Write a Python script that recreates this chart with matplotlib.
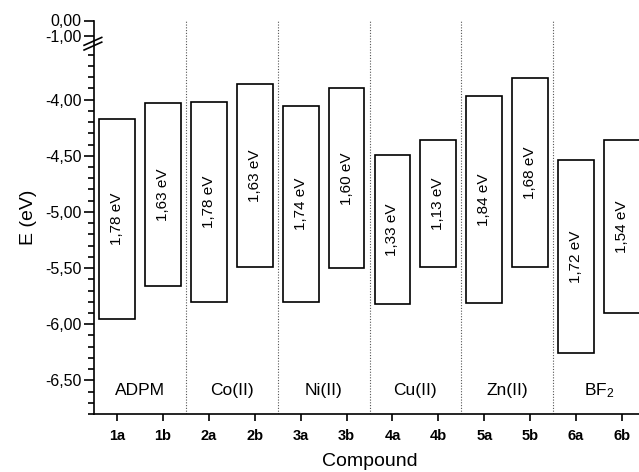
import numpy as np
import matplotlib
matplotlib.use("Agg")
import matplotlib.pyplot as plt

plt.rcParams['font.family'] = ['Liberation Sans', 'DejaVu Sans']
plt.rcParams['mathtext.default'] = 'regular'

# data
compounds = ['1a', '1b', '2a', '2b', '3a', '3b', '4a', '4b', '5a', '5b', '6a', '6b']
lumo = [-4.17, -4.03, -4.02, -3.86, -4.06, -3.90, -4.49, -4.36, -3.97, -3.81, -4.54, -4.36]
homo = [-5.95, -5.66, -5.80, -5.49, -5.80, -5.50, -5.82, -5.49, -5.81, -5.49, -6.26, -5.90]
gap_labels = ['1,78 eV', '1,63 eV', '1,78 eV', '1,63 eV', '1,74 eV', '1,60 eV',
              '1,33 eV', '1,13 eV', '1,84 eV', '1,68 eV', '1,72 eV', '1,54 eV']
groups = ['ADPM', 'Co(II)', 'Ni(II)', 'Cu(II)', 'Zn(II)', 'BF$_2$']
ytick_vals = [0.0, -1.0, -4.0, -4.5, -5.0, -5.5, -6.0, -6.5]
ytick_labels = ['0,00', '-1,00', '-4,00', '-4,50', '-5,00', '-5,50', '-6,00', '-6,50']

# broken y axis: squeeze everything above -3.5
b1, b2 = -3.5, -1.0
k_mid = (8 / 112) / 2.5
k_top = 15 / 112
t2 = b1 + (b2 - b1) * k_mid


def fwd(y):
    y = np.asarray(y, dtype=float)
    return np.where(y <= b1, y,
                    np.where(y <= b2, b1 + (y - b1) * k_mid, t2 + (y - b2) * k_top))


def inv(t):
    t = np.asarray(t, dtype=float)
    return np.where(t <= b1, t,
                    np.where(t <= t2, b1 + (t - b1) / k_mid, b2 + (t - t2) / k_top))


fig = plt.figure(figsize=(6.39, 4.72), dpi=100)
ax = fig.add_axes([94 / 639, 58 / 472, 551 / 639, 393.5 / 472])
ax.set_yscale('function', functions=(fwd, inv))

x = np.arange(1, len(compounds) + 1)
lumo = np.array(lumo)
homo = np.array(homo)
ax.bar(x, lumo - homo, bottom=homo, width=0.78, facecolor='white',
       edgecolor='black', linewidth=1.2, zorder=3)
for xi, lo, hi, lab in zip(x, homo, lumo, gap_labels):
    ax.text(xi, (lo + hi) / 2, lab, rotation=90, ha='center', va='center',
            fontsize=11, zorder=4)

for i, g in enumerate(groups):
    ax.text(2 * i + 1.5, -6.59, g, ha='center', va='center', fontsize=12.5)
    if i > 0:
        ax.axvline(2 * i + 0.5, color='#555555', linestyle=(0, (1, 1.5)),
                   linewidth=0.8, zorder=1)

ax.set_xlim(0.5, 12.5)
ax.set_ylim(-6.8, 0.0)
ax.set_xticks(x)
ax.set_xticklabels(compounds, fontweight='bold', fontsize=10.5)
ax.set_yticks(ytick_vals)
ax.set_yticklabels(ytick_labels, fontsize=11.5)
ax.set_yticks(np.round(np.arange(-6.8, -3.55, 0.1), 2), minor=True)

for s in ['top', 'right']:
    ax.spines[s].set_visible(False)
for s in ['left', 'bottom']:
    ax.spines[s].set_linewidth(1.2)
ax.tick_params(axis='y', which='major', length=7, width=1.2, pad=2)
ax.tick_params(axis='y', which='minor', length=4, width=1.2)
ax.tick_params(axis='x', which='major', length=5, width=1.2, pad=6)

ax.set_ylabel('E (eV)', fontsize=14, labelpad=6)
ax.set_xlabel('Compound', fontsize=14, labelpad=7)

# break marks on the y axis
for dy in (0.0, 0.012):
    ax.plot([-0.018, 0.014], [0.925 + dy, 0.945 + dy], transform=ax.transAxes,
            color='black', linewidth=1.2, clip_on=False, zorder=5)

fig.savefig('out.png', dpi=100)
